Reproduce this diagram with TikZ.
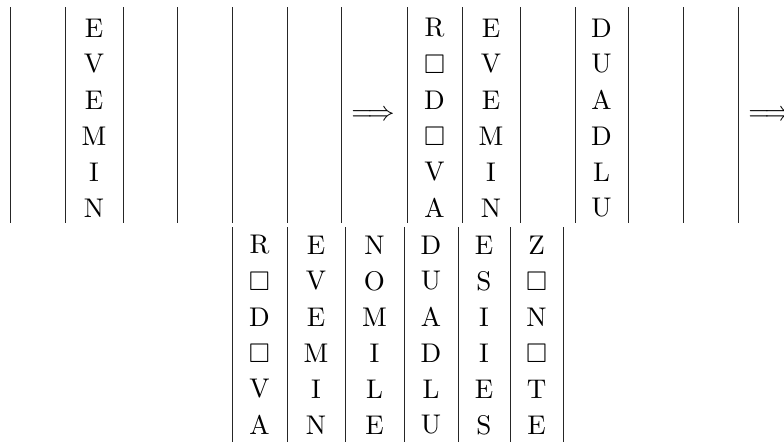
\documentclass[tikz,border=0pt]{standalone}
\usepackage{graphicx}
\usepackage{amssymb}
\newcommand{\enlarged}[1]{\scalebox{1.35}{#1}}
\begin{document}
\begin{tikzpicture}[x=0.5pt,y=-0.5pt,
  rule/.style={black!85,line width=0.45pt},
  glyph/.style={inner sep=0pt,anchor=center}]
\useasboundingbox (0,0) rectangle (784,441);

% upper row: two grids of six columns
\foreach \x [count=\i] in {10,65,123,177,232,287,341,407,462,520,575,628,683,738}{
  \coordinate (ut\i) at (\x,7);
  \coordinate (ub\i) at (\x,223);
  \draw[rule] (ut\i) -- (ub\i);
}
% lower grid
\foreach \x [count=\i] in {232,287,345,404,458,510,563}{
  \coordinate (lt\i) at (\x,227);
  \coordinate (lb\i) at (\x,445);
  \draw[rule] (lt\i) -- (lb\i);
}

% one column of letters, top to bottom: name prefix, x, first row y, letters
\newcommand{\colword}[4]{%
  \foreach \c [count=\r] in {#4}{
    \node[glyph] (#1\r) at (#2,{#3+36*(\r-1)}) {\enlarged{\c}};
  }
}
\colword{ua}{94}{28}{E,V,E,M,I,N}
\colword{ub}{434.5}{28}{R,$\square$,D,$\square$,V,A}
\colword{uc}{491}{28}{E,V,E,M,I,N}
\colword{ud}{601.5}{28}{D,U,A,D,L,U}

\colword{la}{259.5}{245}{R,$\square$,D,$\square$,V,A}
\colword{lb}{316}{245}{E,V,E,M,I,N}
\colword{lc}{374.5}{245}{N,O,M,I,L,E}
\colword{ld}{431}{245}{D,U,A,D,L,U}
\colword{le}{484}{245}{E,S,I,I,E,S}
\colword{lf}{536.5}{245}{Z,$\square$,N,$\square$,T,E}

\node[glyph] (arr1) at (373,116) {\enlarged{$\Longrightarrow$}};
\node[glyph] (arr2) at (770,116) {\enlarged{$\Longrightarrow$}};
\end{tikzpicture}
\end{document}
